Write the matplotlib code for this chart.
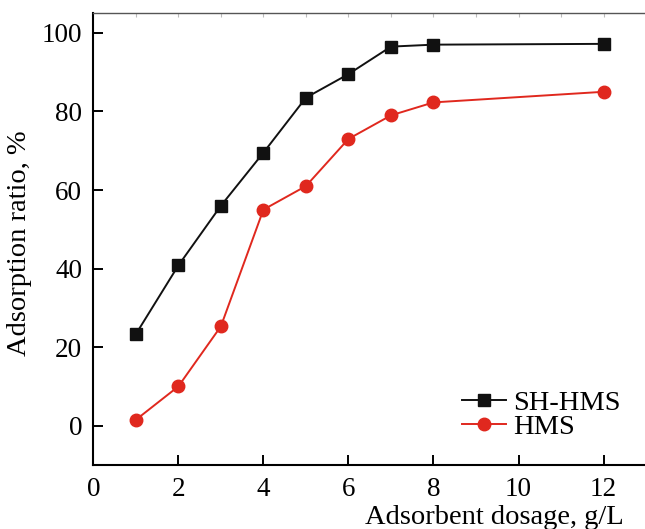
import matplotlib
matplotlib.use("Agg")
import matplotlib.pyplot as plt

dosage = [1, 2, 3, 4, 5, 6, 7, 8, 12]
sh_hms = [23.3, 40.8, 56.0, 69.5, 83.5, 89.5, 96.5, 97.0, 97.2]
hms = [1.5, 10.0, 25.3, 55.0, 61.0, 73.0, 79.0, 82.3, 85.0]

plt.rcParams['font.family'] = ['Liberation Serif', 'DejaVu Serif']

fig = plt.figure(figsize=(6.45, 5.29), dpi=100)
ax = fig.add_axes([0.1447, 0.121, 0.857, 0.854])

ax.plot(dosage, sh_hms, color='#111111', lw=1.4, marker='s', ms=8, label='SH-HMS')
ax.plot(dosage, hms, color='#e0281e', lw=1.4, marker='o', ms=9, label='HMS')

ax.set_xlim(0, 13)
ax.set_ylim(-10, 105)
ax.set_xticks([0, 2, 4, 6, 8, 10, 12])
ax.set_yticks([0, 20, 40, 60, 80, 100])
ax.tick_params(direction='in', length=7, width=1.4, labelsize=19.5, pad=8)
ax.tick_params(axis='x', pad=9)

for s in ['left', 'bottom']:
    ax.spines[s].set_linewidth(1.5)
ax.spines['right'].set_visible(False)
ax.spines['top'].set_color('#555555')
ax.spines['top'].set_linewidth(1.0)

# faint ticks on the top edge
top = ax.secondary_xaxis('top')
top.set_xticks(range(1, 13))
top.tick_params(direction='in', length=3, width=0.8, color='#bbbbbb', labeltop=False)
top.spines['top'].set_visible(False)

ax.legend(loc='center left', bbox_to_anchor=(0.716, 0.2155), bbox_transform=fig.transFigure,
          frameon=False, fontsize=20.5, handlelength=1.55, handletextpad=0.25,
          labelspacing=-0.05, borderpad=0, borderaxespad=0)

fig.text(0.767, 1 - 518 / 529, 'Adsorbent dosage, g/L', ha='center', va='center', fontsize=20.5)
fig.text(0.031, 1 - 243 / 529, 'Adsorption ratio, %', ha='center', va='center',
         rotation=90, fontsize=20.5)

fig.savefig('out.png', dpi=100)
